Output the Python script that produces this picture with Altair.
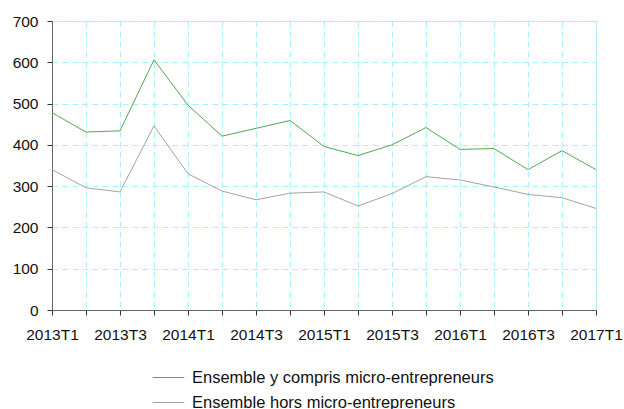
import altair as alt
import pandas as pd

quarters = ["2013T1", "2013T2", "2013T3", "2013T4",
            "2014T1", "2014T2", "2014T3", "2014T4",
            "2015T1", "2015T2", "2015T3", "2015T4",
            "2016T1", "2016T2", "2016T3", "2016T4",
            "2017T1"]
avec_micro = [478, 431, 434, 606, 496, 421, 440, 459,
              396, 374, 400, 442, 389, 391, 340, 386, 340]
hors_micro = [340, 296, 286, 446, 330, 288, 267, 283,
              286, 252, 282, 323, 315, 298, 280, 272, 246]
series_names = ["Ensemble y compris micro-entrepreneurs",
                "Ensemble hors micro-entrepreneurs"]
series_colors = ["#55a755", "#a3a3a3"]

rows = []
for i, q in enumerate(quarters):
    rows.append({"trimestre": q, "valeur": avec_micro[i], "serie": series_names[0]})
    rows.append({"trimestre": q, "valeur": hors_micro[i], "serie": series_names[1]})
df = pd.DataFrame(rows)

font = "Liberation Sans"
fs = 15.5

chart = alt.Chart(df).mark_line(strokeWidth=1).encode(
    x=alt.X("trimestre:O", sort=quarters,
            scale=alt.Scale(type="point", padding=0),
            axis=alt.Axis(title=None, labelAngle=0,
                          labelExpr="(substring(datum.value,5)=='1' || substring(datum.value,5)=='3') ? datum.value : ''",
                          grid=True, gridColor="#a8f0ff", gridDash=[6, 4],
                          domainColor="#666666", tickColor="#333333", tickSize=5,
                          labelPadding=12, labelFont=font, labelFontSize=fs,
                          labelColor="#111111", labelOverlap=False, labelBound=False)),
    y=alt.Y("valeur:Q", scale=alt.Scale(domain=[0, 700], nice=False),
            axis=alt.Axis(title=None, values=[0, 100, 200, 300, 400, 500, 600, 700],
                          grid=True, gridColor="#a8f0ff", gridDash=[6, 4],
                          domainColor="#666666", tickColor="#333333", tickSize=5,
                          labelPadding=9, labelFont=font, labelFontSize=fs,
                          labelColor="#111111")),
    color=alt.Color("serie:N", sort=series_names,
                    scale=alt.Scale(domain=series_names, range=series_colors),
                    legend=alt.Legend(title=None, orient="none", legendX=100, legendY=340,
                                      direction="vertical", symbolType="stroke",
                                      symbolSize=1000, symbolStrokeWidth=1,
                                      labelFont=font, labelFontSize=16.5,
                                      labelColor="#111111", rowPadding=-8,
                                      labelOffset=7, labelLimit=0)),
).properties(
    width=544, height=289,
    autosize=alt.AutoSizeParams(type="none"),
    padding={"left": 52, "top": 21, "right": 28, "bottom": 99},
).configure_view(stroke=None).configure(background="white")

chart.save("out.html", embed_options={"renderer": "svg", "actions": False})
